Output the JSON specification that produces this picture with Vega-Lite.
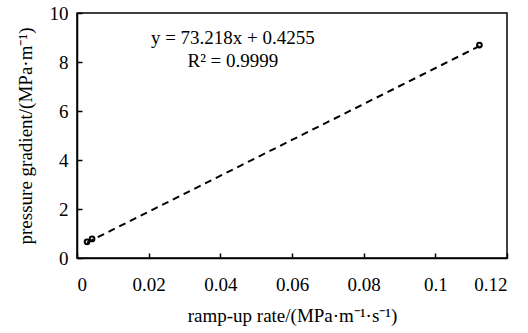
{
  "$schema": "https://vega.github.io/schema/vega-lite/v6.json",
  "width": 430,
  "height": 245,
  "autosize": {"type": "none"},
  "padding": {"left": 77, "top": 13, "right": 21, "bottom": 75},
  "background": "white",
  "config": {
    "view": {"stroke": "black", "strokeWidth": 1.5},
    "font": "'Liberation Serif', 'Times New Roman', serif",
    "axis": {
      "grid": false,
      "domainColor": "black",
      "domainWidth": 1.5,
      "tickColor": "black",
      "tickWidth": 1.5,
      "labelFont": "'Liberation Serif', 'Times New Roman', serif",
      "labelFontSize": 19,
      "labelColor": "black",
      "titleFont": "'Liberation Serif', 'Times New Roman', serif",
      "titleFontSize": 19,
      "titleFontWeight": "normal",
      "titleColor": "black"
    }
  },
  "datasets": {
    "pts": [
      {"rate": 0.0028, "grad": 0.66},
      {"rate": 0.0042, "grad": 0.78},
      {"rate": 0.1123, "grad": 8.69}
    ],
    "fit": [
      {"rate": 0.0028, "grad": 0.63},
      {"rate": 0.1123, "grad": 8.65}
    ],
    "labels": [
      {"rate": 0.0435, "grad": 9.0, "text": "y = 73.218x + 0.4255"},
      {"rate": 0.0435, "grad": 8.05, "text": "R² = 0.9999"}
    ]
  },
  "layer": [
    {
      "data": {"name": "fit"},
      "mark": {"type": "line", "color": "black", "strokeWidth": 2, "strokeDash": [7, 5]},
      "encoding": {
        "x": {
          "field": "rate", "type": "quantitative",
          "scale": {"domain": [0, 0.12], "nice": false},
          "axis": {"values": [0, 0.02, 0.04, 0.06, 0.08, 0.1, 0.12], "title": "ramp-up rate/(MPa·m⁻¹·s⁻¹)", "tickSize": -5, "labelPadding": 22, "titlePadding": 12, "format": "~g"}
        },
        "y": {
          "field": "grad", "type": "quantitative",
          "scale": {"domain": [0, 10], "nice": false},
          "axis": {"values": [0, 2, 4, 6, 8, 10], "title": "pressure gradient/(MPa·m⁻¹)", "tickSize": -5, "labelPadding": 14, "titlePadding": 14}
        }
      }
    },
    {
      "data": {"name": "pts"},
      "mark": {"type": "point", "shape": "circle", "filled": false, "color": "black", "strokeWidth": 2, "size": 22, "opacity": 1},
      "encoding": {
        "x": {"field": "rate", "type": "quantitative"},
        "y": {"field": "grad", "type": "quantitative"}
      }
    },
    {
      "data": {"name": "labels"},
      "mark": {"type": "text", "font": "'Liberation Serif', 'Times New Roman', serif", "fontSize": 19, "color": "black", "align": "center", "baseline": "middle"},
      "encoding": {
        "x": {"field": "rate", "type": "quantitative"},
        "y": {"field": "grad", "type": "quantitative"},
        "text": {"field": "text"}
      }
    }
  ]
}
